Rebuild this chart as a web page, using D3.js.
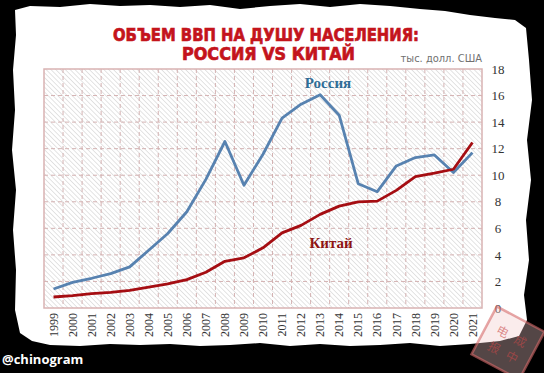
<!DOCTYPE html>
<html>
<head>
<meta charset="utf-8">
<script src="https://cdn.jsdelivr.net/npm/d3@7"></script>
<style>
  body { margin: 0; background: #000; }
  svg { display: block; }
</style>
</head>
<body>
<svg id="chart"></svg>
<script>
const years = ["1999","2000","2001","2002","2003","2004","2005","2006","2007","2008","2009",
  "2010","2011","2012","2013","2014","2015","2016","2017","2018","2019","2020","2021"];
// тыс. долл. США
const russia = [1.43, 1.93, 2.24, 2.59, 3.10, 4.35, 5.61, 7.25, 9.69, 12.54, 9.24,
  11.58, 14.30, 15.35, 16.06, 14.52, 9.36, 8.76, 10.70, 11.33, 11.53, 10.20, 11.70];
const china = [0.83, 0.93, 1.08, 1.18, 1.33, 1.58, 1.81, 2.14, 2.69, 3.52, 3.78,
  4.53, 5.66, 6.22, 7.05, 7.67, 8.00, 8.05, 8.86, 9.90, 10.15, 10.45, 12.46];
const yTicks = [0, 2, 4, 6, 8, 10, 12, 14, 16, 18];

const W = 544, H = 373;
const plotL = 44, plotR = 482, plotT = 69, plotB = 308;

const svg = d3.select("#chart").attr("width", W).attr("height", H);

// black frame + torn paper
svg.append("rect").attr("width", W).attr("height", H).attr("fill", "#000");

const edge = [
  [15,10],[30,6],[60,7],[90,4],[120,6],[150,5],[180,7],[210,5],[240,9],[270,6],[300,4],
  [330,7],[360,4],[390,6],[420,9],[445,11],[470,15],[495,18],[515,20],[526,28],
  [529,60],[532,100],[527,140],[531,180],[526,220],[529,260],[524,295],[527,320],[519,336],
  [500,341],[470,344],[440,346],[410,343],[380,345],[350,346],[320,344],[290,346],
  [260,343],[230,345],[200,346],[170,344],[140,345],[110,344],[80,346],[50,345],[32,341],[20,333],
  [15,310],[16,270],[13,230],[16,190],[12,150],[15,110],[13,70],[16,35]
];
svg.append("path")
  .attr("d", d3.line().curve(d3.curveLinearClosed)(edge))
  .attr("fill", "#fff");

// hatch pattern
const defs = svg.append("defs");
const pat = defs.append("pattern")
  .attr("id", "hatch")
  .attr("patternUnits", "userSpaceOnUse")
  .attr("width", 3.4).attr("height", 3.4)
  .attr("patternTransform", "rotate(-45)");
pat.append("line")
  .attr("x1", 0).attr("y1", 0).attr("x2", 0).attr("y2", 3.4)
  .attr("stroke", "#d2d2d2").attr("stroke-width", 1.2);

const x = d3.scaleBand().domain(years).range([plotL, plotR]);
const y = d3.scaleLinear().domain([0, 18]).range([plotB, plotT]);
const cx = d => x(d) + x.bandwidth() / 2;

svg.append("rect")
  .attr("x", plotL).attr("y", plotT)
  .attr("width", plotR - plotL).attr("height", plotB - plotT)
  .attr("fill", "url(#hatch)");

// grid
svg.append("g").selectAll("line")
  .data(yTicks.filter(t => t > 0 && t < 18))
  .join("line")
  .attr("x1", plotL).attr("x2", plotR)
  .attr("y1", d => y(d)).attr("y2", d => y(d))
  .attr("stroke", "#d4b2b2").attr("stroke-dasharray", "4,3");

svg.append("g").selectAll("line")
  .data(years.slice(1))
  .join("line")
  .attr("x1", d => x(d)).attr("x2", d => x(d))
  .attr("y1", plotT).attr("y2", plotB)
  .attr("stroke", "#d4b2b2").attr("stroke-dasharray", "4,3");

svg.append("rect")
  .attr("x", plotL).attr("y", plotT)
  .attr("width", plotR - plotL).attr("height", plotB - plotT)
  .attr("fill", "none").attr("stroke", "#d9b3b3").attr("stroke-width", 1.5);

// axes
const yAxis = svg.append("g")
  .attr("transform", `translate(498,0)`)
  .call(d3.axisRight(y).tickValues(yTicks).tickSize(0).tickPadding(0));
yAxis.select(".domain").remove();
yAxis.selectAll("text")
  .attr("text-anchor", "middle")
  .attr("font-family", "Liberation Serif, serif")
  .attr("font-size", 13)
  .attr("fill", "#333");

const xAxis = svg.append("g")
  .attr("transform", `translate(0,313)`)
  .call(d3.axisBottom(x).tickSize(0).tickPadding(0));
xAxis.select(".domain").remove();
xAxis.selectAll("text")
  .attr("transform", "rotate(-90)")
  .attr("text-anchor", "end")
  .attr("x", 0).attr("y", 0).attr("dy", "0.35em")
  .attr("font-family", "Liberation Serif, serif")
  .attr("font-size", 12)
  .attr("fill", "#333");

// lines
const line = vals => d3.line()
  .x((d, i) => cx(years[i]))
  .y(d => y(d))(vals);

svg.append("path").attr("d", line(russia))
  .attr("fill", "none").attr("stroke", "#5782b0").attr("stroke-width", 2.8)
  .attr("stroke-linejoin", "round");
svg.append("path").attr("d", line(china))
  .attr("fill", "none").attr("stroke", "#a50d12").attr("stroke-width", 2.8)
  .attr("stroke-linejoin", "round");

svg.append("text").text("Россия")
  .attr("x", 328).attr("y", 88).attr("text-anchor", "middle")
  .attr("font-family", "Liberation Serif, serif").attr("font-weight", "bold")
  .attr("font-size", 15).attr("fill", "#2f6d96");
svg.append("text").text("Китай")
  .attr("x", 331).attr("y", 248).attr("text-anchor", "middle")
  .attr("font-family", "Liberation Serif, serif").attr("font-weight", "bold")
  .attr("font-size", 15).attr("fill", "#8e1414");

// titles
svg.append("text").text("ОБЪЕМ  ВВП  НА  ДУШУ  НАСЕЛЕНИЯ:")
  .attr("x", 113).attr("y", 41)
  .attr("textLength", 306).attr("lengthAdjust", "spacingAndGlyphs")
  .attr("font-family", "DejaVu Sans, sans-serif").attr("font-weight", "bold")
  .attr("font-size", 17).attr("fill", "#c4141c")
  .attr("stroke", "#c4141c").attr("stroke-width", 0.7);
svg.append("text").text("РОССИЯ  VS  КИТАЙ")
  .attr("x", 182).attr("y", 60)
  .attr("textLength", 173).attr("lengthAdjust", "spacingAndGlyphs")
  .attr("font-family", "DejaVu Sans, sans-serif").attr("font-weight", "bold")
  .attr("font-size", 17).attr("fill", "#c4141c")
  .attr("stroke", "#c4141c").attr("stroke-width", 0.7);

svg.append("text").text("тыс. долл. США")
  .attr("x", 482).attr("y", 62).attr("text-anchor", "end")
  .attr("font-family", "DejaVu Sans Condensed, sans-serif")
  .attr("font-size", 11).attr("fill", "#707070");

// watermark
svg.append("text").text("@chinogram")
  .attr("x", 2).attr("y", 364)
  .attr("font-family", "Open Sans, sans-serif").attr("font-weight", "bold")
  .attr("font-size", 13).attr("fill", "#fff");

// stamp
const stamp = svg.append("g")
  .attr("transform", "translate(508,343) rotate(28)");
stamp.append("rect")
  .attr("x", -27).attr("y", -27).attr("width", 54).attr("height", 54)
  .attr("fill", "#f0c8c8").attr("fill-opacity", 0.35)
  .attr("stroke", "#d66a6a").attr("stroke-opacity", 0.6).attr("stroke-width", 2.5);
[["电", -10, -3], ["成", 10, -3], ["报", -10, 15], ["中", 10, 15]].forEach(([t, tx, ty]) => {
  stamp.append("text").text(t)
    .attr("x", tx).attr("y", ty).attr("text-anchor", "middle")
    .attr("font-family", "Noto Sans CJK SC").attr("font-size", 12)
    .attr("fill", "#c84848").attr("fill-opacity", 0.6);
});
</script>
</body>
</html>
